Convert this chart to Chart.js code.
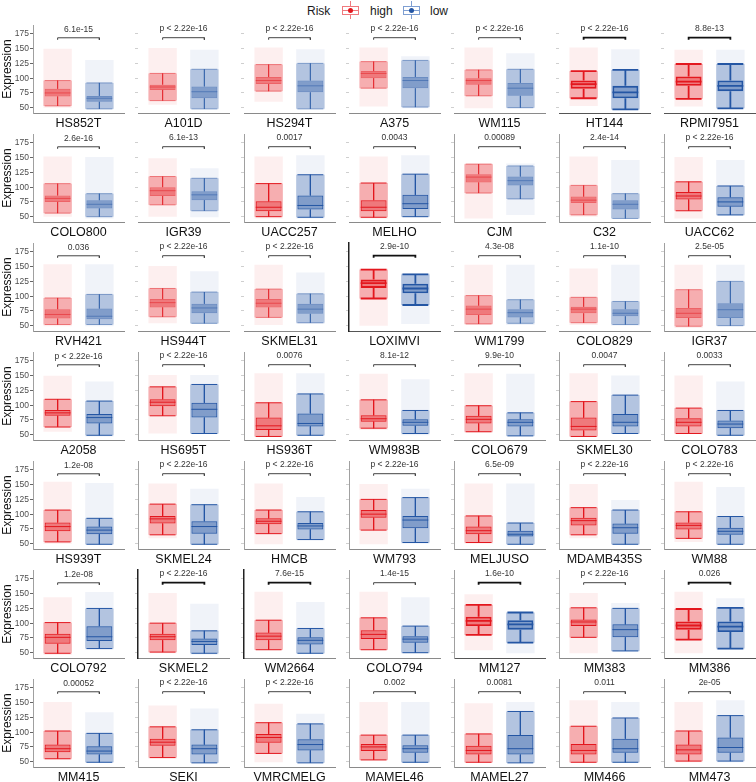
<!DOCTYPE html>
<html>
<head>
<meta charset="utf-8">
<script src="https://cdn.jsdelivr.net/npm/chart.js@4.4.1/dist/chart.umd.min.js"></script>
<style>
  body { margin: 0; background: #fff; font-family: "Liberation Sans", Arial, sans-serif; }
  #wrap { position: relative; width: 756px; height: 782px; overflow: hidden; }
  #wrap canvas { position: absolute; }
  .lg { position: absolute; top: 4px; font-size: 12px; line-height: 14px; color: #1a1a1a; }
  .key { position: absolute; top: 1px; width: 18px; height: 18px; }
  .key i { position: absolute; display: block; }
  .key .wh { left: 8px; top: 0; width: 1px; height: 18px; background: var(--p); }
  .key .bx { left: 0; top: 5px; width: 15px; height: 7px; border: 1px solid var(--p); background: #fff; }
  .key .md { left: 0; top: 9px; width: 17px; height: 1px; background: var(--p); }
  .key .dt { left: 6px; top: 7px; width: 5px; height: 5px; border-radius: 50%; background: var(--c); }
</style>
</head>
<body>
<div id="wrap">
  <div class="lg" style="left:307px">Risk</div>
  <div class="key" style="left:342px;--c:#e3171e;--p:#f07a7e"><i class="wh"></i><i class="bx"></i><i class="md"></i><i class="dt"></i></div>
  <div class="lg" style="left:370px">high</div>
  <div class="key" style="left:403px;--c:#2456a4;--p:#7f9fd2"><i class="wh"></i><i class="bx"></i><i class="md"></i><i class="dt"></i></div>
  <div class="lg" style="left:430px">low</div>
</div>
<script>
// ── Data ───────────────────────────────────────────────
const cellLines = [
  'HS852T', 'A101D', 'HS294T', 'A375', 'WM115', 'HT144', 'RPMI7951',
  'COLO800', 'IGR39', 'UACC257', 'MELHO', 'CJM', 'C32', 'UACC62',
  'RVH421', 'HS944T', 'SKMEL31', 'LOXIMVI', 'WM1799', 'COLO829', 'IGR37',
  'A2058', 'HS695T', 'HS936T', 'WM983B', 'COLO679', 'SKMEL30', 'COLO783',
  'HS939T', 'SKMEL24', 'HMCB', 'WM793', 'MELJUSO', 'MDAMB435S', 'WM88',
  'COLO792', 'SKMEL2', 'WM2664', 'COLO794', 'MM127', 'MM383', 'MM386',
  'MM415', 'SEKI', 'VMRCMELG', 'MAMEL46', 'MAMEL27', 'MM466', 'MM473'
];

const P = 'p < 2.22e-16';
const pValues = [
  '6.1e-15', P, P, P, P, P, '8.8e-13',
  '2.6e-16', '6.1e-13', '0.0017', '0.0043', '0.00089', '2.4e-14', P,
  '0.036', P, P, '2.9e-10', '4.3e-08', '1.1e-10', '2.5e-05',
  P, P, '0.0076', '8.1e-12', '9.9e-10', '0.0047', '0.0033',
  '1.2e-08', P, P, P, '6.5e-09', P, P,
  '1.2e-08', P, '7.6e-15', '1.4e-15', '1.6e-10', P, '0.026',
  '0.00052', P, P, '0.002', '0.0081', '0.011', '2e-05'
];

// [lower whisker, Q1, median, Q3, upper whisker, lowest point, highest point]
const highStats = [
  [53,69,75,82,96,50,150], [62,80,85,89,108,55,151], [78,90,96,102,123,60,152], [83,100,108,112,128,52,152],
  [70,89,96,100,114,49,152], [66,82,90,96,112,53,152], [65,87,94,103,124,52,148],
  [56,75,81,86,106,50,152], [70,85,94,100,118,50,149], [50,59,66,76,106,47,152], [49,59,66,78,107,47,152],
  [90,108,117,122,139,47,140], [53,73,78,84,103,50,152], [60,79,85,92,109,47,151],
  [52,62,69,78,97,49,154], [65,81,89,95,113,54,151], [64,81,88,95,112,51,153], [96,114,122,128,145,50,147],
  [53,68,78,84,101,51,153], [55,71,78,82,98,51,147], [49,63,71,80,111,46,153],
  [63,82,87,92,110,55,150], [82,98,105,110,131,52,151], [47,58,65,79,104,47,154], [61,72,77,83,109,58,153],
  [55,69,76,82,99,53,154], [47,57,64,79,106,47,154], [52,64,71,78,95,51,150],
  [53,71,79,86,107,50,155], [65,84,92,97,117,59,152], [67,83,88,93,107,49,152], [73,94,100,107,125,49,151],
  [52,66,72,79,97,50,152], [65,81,89,94,111,59,151], [59,74,81,86,104,53,155],
  [49,65,76,82,101,46,144], [51,71,77,82,100,49,151], [55,71,78,84,105,54,153], [55,73,81,88,109,54,153],
  [80,95,104,111,131,54,149], [76,95,102,106,126,49,151], [72,89,96,103,124,49,153],
  [55,66,72,79,102,53,151], [57,77,83,89,109,55,145], [64,82,91,97,116,49,148], [53,68,75,80,95,52,151],
  [49,62,69,77,97,48,149], [49,62,69,80,110,48,154], [51,62,70,79,102,49,151]
];

const lowStats = [
  [48,60,66,70,92,47,131], [48,66,77,86,115,47,148], [48,76,87,96,125,47,149], [51,83,96,102,130,49,137],
  [50,70,83,92,115,49,142], [47,66,76,87,114,47,149], [49,78,87,96,124,48,148],
  [50,64,71,78,89,47,151], [60,78,87,93,115,49,132], [49,62,69,86,121,47,154], [50,63,72,87,122,49,154],
  [80,103,111,118,136,53,140], [47,62,71,78,89,47,146], [53,67,75,83,102,51,146],
  [52,61,66,79,103,49,154], [54,71,80,87,107,53,142], [55,70,78,87,104,53,140], [85,105,113,121,137,53,139],
  [54,64,72,78,94,51,153], [52,66,71,78,91,50,153], [50,63,77,88,125,50,153],
  [49,69,79,85,107,47,140], [52,79,93,104,135,52,151], [49,64,69,86,119,48,154], [52,65,71,76,91,49,144],
  [48,64,71,76,87,47,153], [52,64,71,85,117,52,150], [49,61,68,74,91,48,140],
  [49,66,73,79,93,48,153], [49,67,79,88,116,48,143], [57,74,80,85,104,56,129], [52,76,90,97,128,50,143],
  [49,62,66,72,85,49,152], [49,67,77,84,107,48,124], [49,65,71,77,96,48,146],
  [57,70,77,95,125,55,153], [49,63,69,74,87,47,133], [49,64,71,76,91,48,136], [50,67,73,78,95,48,144],
  [67,89,98,105,118,49,118], [53,76,89,98,125,51,134], [57,85,94,103,126,55,142],
  [49,62,68,76,98,48,134], [48,62,72,79,104,48,140], [48,69,79,88,114,48,131], [49,65,72,78,95,48,151],
  [48,62,72,95,135,48,151], [49,65,72,89,124,48,151], [51,65,74,91,128,49,154]
];

const groupX = [1, 2];                    // high, low
const yTicks = [50, 75, 100, 125, 150, 175];

// ── Look per panel (p = pale, n = normal, b = bold; frame g = grey, k = black) ──
const boxLook   = ['pppppbb', 'ppnnppn', 'pppbppp', 'nnnnnnn', 'nnnnnnn', 'nnnnbnb', 'nnnnnnn'].join('');
const frameLook = ['-------', '--g-ggg', '---k--g', '-gg--gg', '-gggggg', '-kkgggg', '-gggggg'].join('');

// ── Layout ─────────────────────────────────────────────
const FONT = '"Liberation Sans", Arial, sans-serif';
const RED = '#e3171e', BLUE = '#2456a4';
const Y_MIN = 41, Y_MAX = 190, P_Y = 183, BRACKET = [165, 168.5];
const X_MIN = 0.41, X_MAX = 2.59, HALF_BOX = 0.31;
const PLOT_X0 = 33.2, COL_STEP = 105.2, PLOT_Y0 = 113.3, ROW_STEP = 108.9;
const PLOT_W = 91, PLOT_H = 88, PAD_TOP = 6, X_AXIS_H = 18;

const rgba = (hex, a) => {
  const n = parseInt(hex.slice(1), 16);
  return `rgba(${n >> 16},${(n >> 8) & 255},${n & 255},${a})`;
};

function whiskerLine(x, s) {
  const [lo, q1, med, q3, hi] = s;
  const w = HALF_BOX, gap = { x, y: null };
  return [
    { x: x - w, y: hi }, { x: x + w, y: hi }, gap,
    { x, y: hi }, { x, y: q3 }, gap,
    { x, y: q1 }, { x, y: lo }, gap,
    { x: x - w, y: lo }, { x: x + w, y: lo }, gap,
    { x: x - w, y: med }, { x: x + w, y: med }
  ];
}

// p-value above the bracket
const pLabel = {
  id: 'pLabel',
  afterDatasetsDraw(chart, args, opts) {
    const { ctx, scales: { x, y } } = chart;
    ctx.save();
    ctx.font = '8.5px ' + FONT;
    ctx.fillStyle = '#333';
    ctx.textAlign = 'center';
    ctx.textBaseline = 'middle';
    ctx.fillText(opts.text, x.getPixelForValue(1.5), y.getPixelForValue(P_Y));
    ctx.restore();
  }
};

// ── Panels ─────────────────────────────────────────────
const wrap = document.getElementById('wrap');

cellLines.forEach((name, i) => {
  const r = Math.floor(i / 7), c = i % 7;
  const first = c === 0;
  const look = boxLook[i], frame = frameLook[i];
  const lw = look === 'b' ? 1.8 : 1;
  const boxA = look === 'p' ? 0.5 : 1;
  const yW = first ? 33 : 4;
  const bottom = Math.round(PLOT_Y0 + ROW_STEP * r);

  const cv = document.createElement('canvas');
  cv.width  = yW + PLOT_W + 2;
  cv.height = PAD_TOP + PLOT_H + X_AXIS_H;
  cv.style.left = (Math.round(PLOT_X0 + COL_STEP * c) - yW) + 'px';
  cv.style.top  = (bottom - PLOT_H - PAD_TOP) + 'px';
  wrap.appendChild(cv);

  const hs = highStats[i], ls = lowStats[i];
  const pair = (a, b) => [{ x: groupX[0], y: [hs[a], hs[b]] }, { x: groupX[1], y: [ls[a], ls[b]] }];

  new Chart(cv, {
    type: 'bar',
    data: {
      datasets: [
        // sparse points beyond the whiskers, dense cloud inside them
        { data: pair(5, 6), backgroundColor: [rgba(RED, 0.07), rgba(BLUE, 0.07)], barPercentage: 0.68, order: 5 },
        { data: pair(0, 4), backgroundColor: [rgba(RED, 0.3), rgba(BLUE, 0.3)], barPercentage: 0.68, order: 4 },
        {
          data: pair(1, 3),
          backgroundColor: [rgba(RED, 0.35), rgba(BLUE, 0.35)],
          borderColor: [rgba(RED, boxA), rgba(BLUE, boxA)],
          borderWidth: lw, borderSkipped: false, barPercentage: 0.62, order: 3
        },
        { type: 'line', data: whiskerLine(groupX[0], hs), borderColor: rgba(RED, boxA), borderWidth: lw, pointRadius: 0, order: 2 },
        { type: 'line', data: whiskerLine(groupX[1], ls), borderColor: rgba(BLUE, boxA), borderWidth: lw, pointRadius: 0, order: 2 },
        {
          type: 'line',
          data: [{ x: 1, y: BRACKET[0] }, { x: 1, y: BRACKET[1] }, { x: 2, y: BRACKET[1] }, { x: 2, y: BRACKET[0] }],
          borderColor: look === 'b' || frame === 'k' ? '#111' : '#444',
          borderWidth: look === 'b' || frame === 'k' ? 1.8 : 1, pointRadius: 0, order: 1
        }
      ]
    },
    options: {
      responsive: false,
      animation: false,
      events: [],
      layout: { padding: { top: PAD_TOP, right: 2, left: 0, bottom: 0 } },
      datasets: { bar: { grouped: false, categoryPercentage: 1 } },
      plugins: { legend: { display: false }, tooltip: { enabled: false }, pLabel: { text: pValues[i] } },
      scales: {
        x: {
          type: 'linear', min: X_MIN, max: X_MAX, offset: false,
          afterBuildTicks: s => { s.ticks = groupX.map(v => ({ value: v })); },
          ticks: { display: false },
          grid: { display: false },
          border: { color: look === 'b' ? '#555' : '#8a8a8a', width: 1 },
          title: { display: true, text: name, color: '#111', padding: 0, font: { size: 12.5, family: FONT } },
          afterFit: s => { s.height = X_AXIS_H; }
        },
        y: {
          min: Y_MIN, max: Y_MAX,
          afterBuildTicks: s => { s.ticks = yTicks.map(v => ({ value: v })); },
          ticks: { display: first, autoSkip: false, padding: 1, color: '#4d4d4d', font: { size: 8.5, family: FONT } },
          grid: { drawOnChartArea: false, tickLength: 3, color: first ? '#666' : '#cfcfcf' },
          border: {
            display: first || frame !== '-',
            color: frame === 'k' ? '#222' : '#a0a0a0',
            width: frame === 'k' ? 1.5 : 1
          },
          title: { display: first, text: 'Expression', color: '#111', padding: 0, font: { size: 12, family: FONT } },
          afterFit: s => { s.width = yW; }
        }
      }
    },
    plugins: [pLabel]
  });
});
</script>
</body>
</html>
